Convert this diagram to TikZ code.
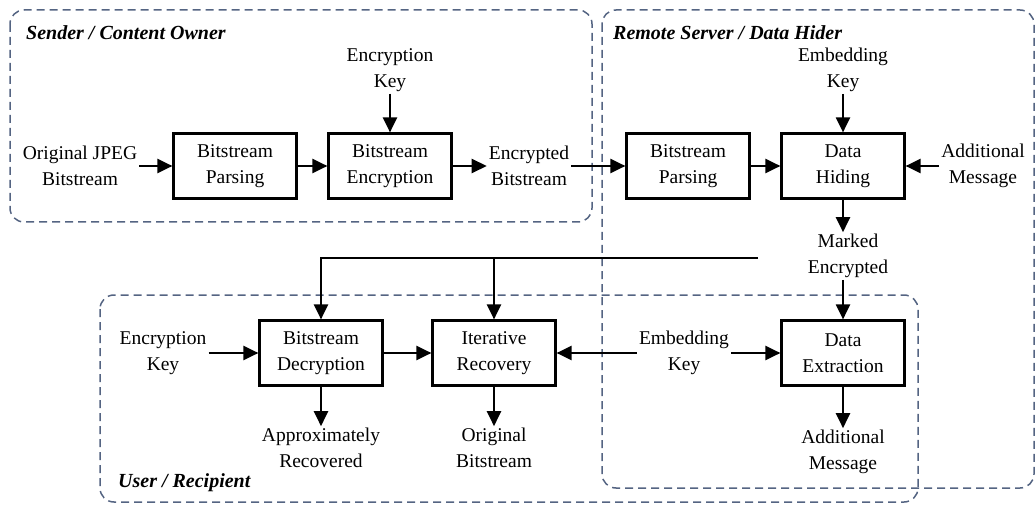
\documentclass[tikz,border=0pt]{standalone}
\usepackage{fontspec}
\setmainfont{Liberation Serif}
\usetikzlibrary{arrows.meta}
\definecolor{grpblue}{RGB}{84,100,130}

\begin{document}
\begin{tikzpicture}[x=1pt, y=-1pt, font=\fontsize{19.5}{25.5}\selectfont,
  block/.style = {draw, line width=2.2pt, minimum width=123pt, minimum height=65pt, align=center, inner sep=2pt},
  txt/.style = {align=center, inner sep=2pt},
  grp/.style = {draw=grpblue, line width=1.5pt, dash pattern=on 8pt off 5pt, rounded corners=14pt},
  title/.style = {anchor=west, inner sep=0pt, font=\fontsize{20}{24}\selectfont\bfseries\itshape},
  arr/.style = {line width=2.2pt, -{Triangle[length=15pt, width=14pt]}}]
\useasboundingbox (0,0) rectangle (1036,505);

% groups
\draw[grp] (10,10) rectangle (592,222);
\draw[grp] (602,10) rectangle (1034,488);
\draw[grp] (100,295) rectangle (918,502);
\node[title] (t1) at (26,33) {Sender / Content Owner};
\node[title] (t2) at (613,33) {Remote Server / Data Hider};
\node[title] (t3) at (118,483) {User / Recipient};

% sender
\node[txt] (jpeg) at (80,166) {Original JPEG\\Bitstream};
\node[block] (bp1) at (235,166) {Bitstream\\Parsing};
\node[block] (be) at (390,166) {Bitstream\\Encryption};
\node[txt] (ek1) at (390,70) {Encryption\\Key};
\node[txt] (eb) at (529,166) {Encrypted\\Bitstream};
\draw[arr] (jpeg) -- (bp1);
\draw[arr] (bp1) -- (be);
\draw[arr] (ek1) -- (be);
\draw[arr] (be) -- (eb);

% data hider
\node[block] (bp2) at (688,166) {Bitstream\\Parsing};
\node[block] (dh) at (843,166) {Data\\Hiding};
\node[txt] (mk1) at (843,70) {Embedding\\Key};
\node[txt] (am1) at (983,166) {Additional\\Message};
\node[txt] (me) at (848,256) {Marked\\Encrypted};
\draw[arr] (eb) -- (bp2);
\draw[arr] (bp2) -- (dh);
\draw[arr] (mk1) -- (dh);
\draw[arr] (am1) -- (dh);
\draw[arr] (dh) -- (dh |- me.north);

% recipient
\node[block] (dec) at (321,353) {Bitstream\\Decryption};
\node[block] (ir) at (494,353) {Iterative\\Recovery};
\node[block] (dx) at (843,353) {Data\\Extraction};
\node[txt] (ek2) at (163,353) {Encryption\\Key};
\node[txt] (mk2) at (684,353) {Embedding\\Key};
\node[txt] (ar) at (321,448) {Approximately\\Recovered};
\node[txt] (ob) at (494,448) {Original\\Bitstream};
\node[txt] (am2) at (843,452) {Additional\\Message};
\coordinate (split) at (758,258);
\draw[arr] (split) -| (dec);
\draw[arr] (split -| ir) -- (ir);
\draw[arr] (me.south -| dx) -- (dx);
\draw[arr] (ek2) -- (dec);
\draw[arr] (dec) -- (ir);
\draw[arr] (mk2) -- (ir);
\draw[arr] (mk2) -- (dx);
\draw[arr] (dec) -- (ar);
\draw[arr] (ir) -- (ob);
\draw[arr] (dx) -- (am2);
\end{tikzpicture}
\end{document}
